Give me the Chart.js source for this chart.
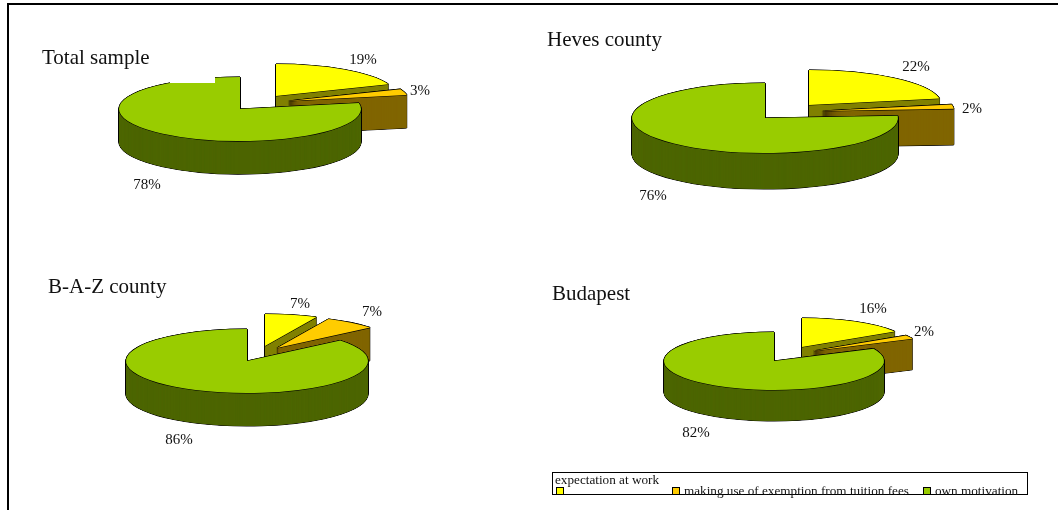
<!DOCTYPE html>
<html>
<head>
<meta charset="utf-8">
<title>Motivation pies</title>
<script src="https://cdn.jsdelivr.net/npm/chart.js@4/dist/chart.umd.min.js"></script>
<style>
  html, body { margin: 0; padding: 0; background: #fff; }
  #page { position: relative; width: 1058px; height: 510px; overflow: hidden; font-family: "Liberation Serif", serif; color: #111; }
  #frame { position: absolute; left: 7px; top: 3px; right: -4px; bottom: -4px; border: 2px solid #000; }
  canvas { position: absolute; }
  .txt { position: absolute; white-space: nowrap; line-height: 1; }
  .title { font-size: 21px; }
  .pct { font-size: 15px; transform: translate(-50%, -50%); }
  #legend { position: absolute; left: 552px; top: 472px; width: 474px; height: 21px; border: 1px solid #000; }
  .key { position: absolute; width: 6px; height: 6px; border: 1px solid #000; }
  .legtxt { font-size: 13.2px; }
  #topcut { position: absolute; left: 170px; top: 70px; width: 45px; height: 13px; background: #fff; }
</style>
</head>
<body>
<div id="page"><div id="frame"></div></div>
<script>
const categories = ["expectation at work", "making use of exemption from tuition fees", "own motivation"];
const totalSample = [19, 3, 78];
const hevesCounty = [22, 2, 76];
const bazCounty = [7, 7, 86];
const budapest = [16, 2, 82];

const topColors = ["#ffff00", "#ffcc00", "#99cc00"];
const wallColors = ["#808000", "#806600", "#4d6600"];

// cx/cy centre of the disc, rx/ry its radii, depth the wall height,
// shift moves each slice out of the pie, pct = label centres
const pies = [
  { title: "Total sample", titlePos: [42, 47], values: totalSample, cx: 240, cy: 109, rx: 121, ry: 32, depth: 33,
    shift: [[36, -13], [48, -8], [0, 0]], pct: [[363, 59], [420, 90], [147, 184]] },
  { title: "Heves county", titlePos: [547, 29], values: hevesCounty, cx: 765, cy: 118, rx: 133, ry: 35, depth: 36,
    shift: [[44, -13], [56, -7], [0, 0]], pct: [[916, 66], [972, 108], [653, 195]] },
  { title: "B-A-Z county", titlePos: [48, 276], values: bazCounty, cx: 247, cy: 361, rx: 121, ry: 32, depth: 33,
    shift: [[18, -15], [30, -13], [0, 0]], pct: [[300, 303], [372, 311], [179, 439]] },
  { title: "Budapest", titlePos: [552, 283], values: budapest, cx: 774, cy: 361, rx: 110, ry: 29, depth: 31,
    shift: [[28, -14], [39, -10], [0, 0]], pct: [[873, 308], [924, 331], [696, 432]] }
];

const page = document.getElementById("page");
const CANVAS_W = 440, CANVAS_H = 240;
const HALO = 0.6;
const WALL_STEP = 0.25;
const around = [[-HALO, 0], [HALO, 0], [0, -HALO], [0, HALO]];

function addText(cls, text, x, y) {
  const el = document.createElement("div");
  el.className = "txt " + cls;
  el.textContent = text;
  el.style.left = x + "px";
  el.style.top = y + "px";
  page.appendChild(el);
}

// draw an arc element in another colour, flattened into an ellipse
function paintArc(ctx, arc, color, ratio, dx, dy) {
  const copy = Object.create(arc);
  copy.options = Object.assign({}, arc.options, { backgroundColor: color, borderWidth: 0 });
  ctx.save();
  ctx.translate(arc.x + dx, arc.y + dy);
  ctx.scale(1, ratio);
  ctx.translate(-arc.x, -arc.y);
  arc.draw.call(copy, ctx);
  ctx.restore();
}

// replaces the flat pie with a raised, exploded one
const raisedPie = {
  id: "raisedPie",
  beforeDatasetsDraw(chart, args, opts) {
    const ctx = chart.ctx;
    const ratio = opts.ry / opts.rx;
    chart.getDatasetMeta(0).data.forEach((arc, i) => {
      const [sx, sy] = opts.shift[i];
      // black halo first, that leaves the outline
      for (let d = opts.depth; d >= 0; d -= 0.5) {
        around.forEach(a => paintArc(ctx, arc, "#000", ratio, sx + a[0], sy + d + a[1]));
      }
      // small steps, thin slices leave gaps otherwise
      for (let d = opts.depth; d > 0; d -= WALL_STEP) {
        paintArc(ctx, arc, wallColors[i], ratio, sx, sy + d);
      }
      around.forEach(a => paintArc(ctx, arc, "#000", ratio, sx + a[0], sy + a[1]));
      paintArc(ctx, arc, topColors[i], ratio, sx, sy);
    });
    return false;
  }
};

pies.forEach(p => {
  const canvas = document.createElement("canvas");
  canvas.width = CANVAS_W;
  canvas.height = CANVAS_H;
  canvas.style.left = (p.cx - CANVAS_W / 2) + "px";
  canvas.style.top = (p.cy - CANVAS_H / 2) + "px";
  page.appendChild(canvas);

  new Chart(canvas.getContext("2d"), {
    type: "pie",
    data: {
      labels: categories,
      datasets: [{ data: p.values, backgroundColor: topColors, borderWidth: 0, radius: p.rx }]
    },
    options: {
      responsive: false,
      animation: false,
      events: [],
      plugins: {
        legend: { display: false },
        tooltip: { enabled: false },
        raisedPie: { rx: p.rx, ry: p.ry, depth: p.depth, shift: p.shift }
      }
    },
    plugins: [raisedPie]
  });

  addText("title", p.title, p.titlePos[0], p.titlePos[1]);
  p.values.forEach((v, i) => addText("pct", v + "%", p.pct[i][0], p.pct[i][1]));
});

// the first pie's rim is cut flat just left of the gap
const topCut = document.createElement("div");
topCut.id = "topcut";
page.appendChild(topCut);

// legend strip under the last pie
const legend = document.createElement("div");
legend.id = "legend";
page.appendChild(legend);
const keyX = [556, 672, 923];
const legendTextPos = [[555, 473], [684, 484], [935, 484]];
categories.forEach((name, i) => {
  const key = document.createElement("div");
  key.className = "key";
  key.style.left = keyX[i] + "px";
  key.style.top = "487px";
  key.style.background = topColors[i];
  page.appendChild(key);
  addText("legtxt", name, legendTextPos[i][0], legendTextPos[i][1]);
});
</script>
</body>
</html>
